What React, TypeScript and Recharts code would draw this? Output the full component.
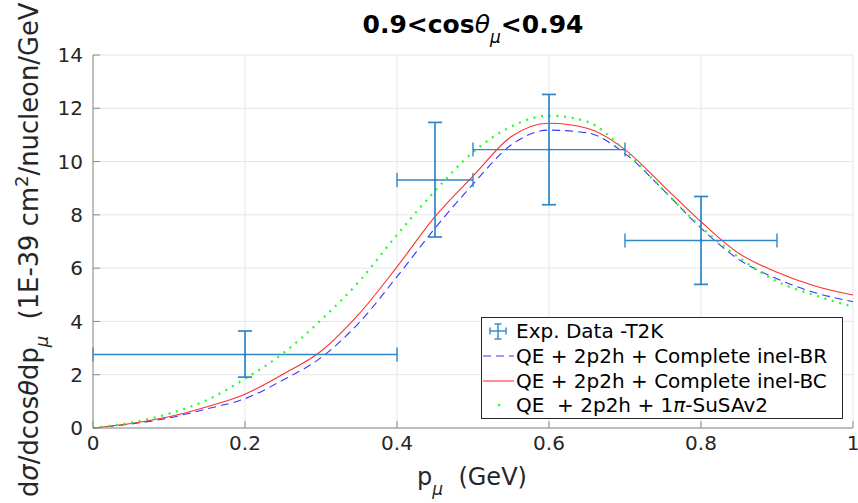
import {
  ComposedChart,
  Line,
  Scatter,
  ErrorBar,
  XAxis,
  YAxis,
  CartesianGrid,
} from "recharts";

// muon momentum grid (GeV) for the model curves
const pGrid = [0, 0.05, 0.1, 0.15, 0.2, 0.25, 0.3, 0.35, 0.4, 0.45, 0.5, 0.55, 0.6, 0.65, 0.7, 0.75, 0.8, 0.85, 0.9, 0.95, 1.0];
const crossBR = [0, 0.15, 0.38, 0.72, 1.1, 1.8, 2.64, 3.95, 5.68, 7.5, 9.15, 10.62, 11.18, 11.08, 10.3, 8.95, 7.5, 6.32, 5.6, 5.08, 4.74];
const crossBC = [0, 0.17, 0.42, 0.8, 1.27, 2.02, 2.88, 4.28, 6.05, 7.93, 9.45, 10.93, 11.44, 11.25, 10.45, 9.1, 7.74, 6.55, 5.85, 5.33, 4.99];
const crossSuSA = [0, 0.2, 0.54, 1.05, 1.85, 2.8, 4.05, 5.5, 7.25, 8.9, 10.35, 11.31, 11.72, 11.5, 10.41, 8.95, 7.55, 6.4, 5.5, 4.98, 4.55];

// T2K data points
const expP = [0.2, 0.45, 0.6, 0.8];
const expPLow = [0, 0.4, 0.5, 0.7];
const expPHigh = [0.4, 0.5, 0.7, 0.9];
const expXsec = [2.76, 9.31, 10.45, 7.04];
const expXsecLow = [1.91, 7.17, 8.38, 5.39];
const expXsecHigh = [3.64, 11.47, 12.52, 8.69];

const xTicks = [0, 0.2, 0.4, 0.6, 0.8, 1];
const yTicks = [0, 2, 4, 6, 8, 10, 12, 14];

const curveData = pGrid.map((x, i) => ({
  x,
  br: crossBR[i],
  bc: crossBC[i],
  susa: crossSuSA[i],
}));

const expData = expP.map((x, i) => ({
  x,
  y: expXsec[i],
  ex: [x - expPLow[i], expPHigh[i] - x],
  ey: [expXsec[i] - expXsecLow[i], expXsecHigh[i] - expXsec[i]],
}));

const FONT = "'DejaVu Sans', sans-serif";
const ERR_COLOR = "#2f86c9";

export default function App() {
  return (
    <div style={{ position: "absolute", left: 0, top: 0, width: 858, height: 503, background: "#fff", fontFamily: FONT }}>
      <ComposedChart width={858} height={503} data={curveData} margin={{ top: 55, right: 5, bottom: 0, left: 0 }}>
        <CartesianGrid stroke="#e6e6e6" strokeWidth={1} />
        <XAxis
          type="number"
          dataKey="x"
          domain={[0, 1]}
          ticks={xTicks}
          height={75}
          stroke="#8a8a8a"
          tickSize={-7}
          tickMargin={15}
          tick={{ fontSize: 20, fill: "#262626", fontFamily: FONT }}
          tickFormatter={(v) => String(v)}
        />
        <YAxis
          type="number"
          domain={[0, 14]}
          ticks={yTicks}
          width={93}
          stroke="#8a8a8a"
          tickSize={-7}
          tickMargin={17}
          tick={{ fontSize: 20, fill: "#262626", fontFamily: FONT }}
        />
        <Line type="monotone" dataKey="br" stroke="#3535ff" strokeWidth={1.1} strokeDasharray="8 5" dot={false} isAnimationActive={false} />
        <Line type="monotone" dataKey="bc" stroke="#ff3030" strokeWidth={1.1} dot={false} isAnimationActive={false} />
        <Line type="monotone" dataKey="susa" stroke="#1eff1e" strokeWidth={2.2} strokeDasharray="2 5.7" dot={false} isAnimationActive={false} />
        <Scatter
          data={expData}
          dataKey="y"
          fill={ERR_COLOR}
          isAnimationActive={false}
          shape={(p: any) => <circle cx={p.cx} cy={p.cy} r={1.5} fill={ERR_COLOR} />}
        >
          <ErrorBar dataKey="ey" direction="y" width={7} stroke={ERR_COLOR} strokeWidth={1.7} isAnimationActive={false} />
          <ErrorBar dataKey="ex" direction="x" width={7} stroke={ERR_COLOR} strokeWidth={1.4} isAnimationActive={false} />
        </Scatter>
      </ComposedChart>

      <svg width={858} height={503} style={{ position: "absolute", left: 0, top: 0, pointerEvents: "none" }} fontFamily={FONT}>
        {/* title */}
        <text x={473} y={33} textAnchor="middle" fontSize={25} fontWeight="bold" fill="#000" xmlSpace="preserve">
          <tspan>0.9&lt;cos</tspan>
          <tspan fontStyle="italic" fontWeight="normal">θ</tspan>
          <tspan fontStyle="italic" fontWeight="normal" fontSize={17} dy={10}>μ</tspan>
          <tspan dy={-10}>&lt;0.94</tspan>
        </text>

        {/* x label */}
        <text x={472} y={485} textAnchor="middle" fontSize={24} fill="#262626" xmlSpace="preserve" style={{ whiteSpace: "pre" }}>
          <tspan>p</tspan>
          <tspan fontStyle="italic" fontSize={17} dy={10}>μ</tspan>
          <tspan dy={-10}>  (GeV)</tspan>
        </text>

        {/* y label */}
        <text transform="translate(38,497) rotate(-90)" fontSize={25.8} fill="#262626" xmlSpace="preserve" style={{ whiteSpace: "pre" }}>
          <tspan>d</tspan>
          <tspan fontStyle="italic">σ</tspan>
          <tspan>/dcos</tspan>
          <tspan fontStyle="italic">θ</tspan>
          <tspan>dp</tspan>
          <tspan fontStyle="italic" fontSize={18} dy={10}>μ</tspan>
          <tspan dy={-10}>  (1E-39 cm</tspan>
          <tspan fontSize={18} dy={-10}>2</tspan>
          <tspan dy={10}>/nucleon/GeV</tspan>
        </text>

        {/* legend */}
        <rect x={481.5} y={317.5} width={361} height={101} fill="#fff" stroke="#262626" strokeWidth={1} />
        <g stroke={ERR_COLOR} strokeWidth={1.4}>
          <line x1={490} y1={331} x2={506} y2={331} />
          <line x1={490} y1={327.5} x2={490} y2={334.5} />
          <line x1={506} y1={327.5} x2={506} y2={334.5} />
          <line x1={498} y1={324} x2={498} y2={339} />
          <line x1={494.5} y1={324} x2={501.5} y2={324} />
          <line x1={494.5} y1={339} x2={501.5} y2={339} />
        </g>
        <line x1={483} y1={356} x2={514} y2={356} stroke="#3535ff" strokeWidth={1.1} strokeDasharray="8 5" />
        <line x1={483} y1={381} x2={514} y2={381} stroke="#ff3030" strokeWidth={1.1} />
        <rect x={498} y={404} width={2.2} height={2.2} fill="#1eff1e" />
        <g fontSize={20} fill="#000">
          <text x={516} y={338}>Exp. Data -T2K</text>
          <text x={516} y={363}>QE + 2p2h + Complete inel-BR</text>
          <text x={516} y={388}>QE + 2p2h + Complete inel-BC</text>
          <text x={516} y={412} xmlSpace="preserve" style={{ whiteSpace: "pre" }}>
            <tspan>QE  + 2p2h + 1</tspan>
            <tspan fontStyle="italic">π</tspan>
            <tspan>-SuSAv2</tspan>
          </text>
        </g>
      </svg>
    </div>
  );
}
